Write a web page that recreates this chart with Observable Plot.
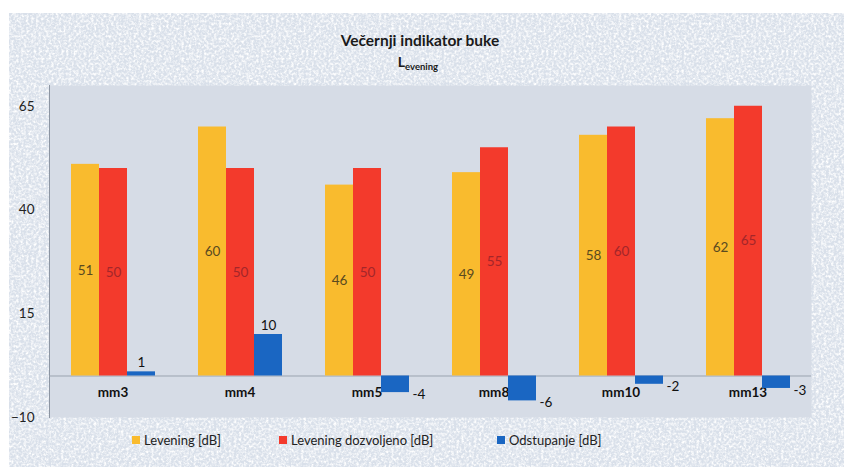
<!DOCTYPE html>
<html>
<head>
<meta charset="utf-8">
<script src="https://cdn.jsdelivr.net/npm/d3@7"></script>
<script src="https://cdn.jsdelivr.net/npm/@observablehq/plot@0.6"></script>
<style>
  html, body { margin: 0; padding: 0; background: #ffffff; }
  #wrap { position: relative; width: 844px; height: 467px; overflow: hidden; font-family: Lato, "Open Sans", sans-serif; }
  #bg { position: absolute; left: 9px; top: 13px; right: 0; bottom: 0; background-color: #d9e0ea; }
  #chart { position: absolute; left: 0; top: 0; }
  #title { position: absolute; left: 0; width: 840px; top: 31px; text-align: center; font-weight: 700; font-size: 15.5px; color: #1a1a1a; }
  #subtitle { position: absolute; left: 0; width: 836px; top: 53px; text-align: center; font-weight: 700; font-size: 14px; color: #1a1a1a; }
  #subtitle sub { font-size: 9.5px; vertical-align: -3px; }
  .leg { position: absolute; top: 432px; font-size: 13px; color: #222; display: flex; align-items: center; white-space: nowrap; }
  .leg i { display: inline-block; width: 8px; height: 8px; margin-right: 4px; }
</style>
</head>
<body>
<div id="wrap">
  <div id="bg"></div>
  <div id="chart"></div>
  <div id="title">Večernji indikator buke</div>
  <div id="subtitle">L<sub>evening</sub></div>
  <div id="legend"></div>
</div>
<script>
const categories = ["mm3", "mm4", "mm5", "mm8", "mm10", "mm13"];
const levening = [51, 60, 46, 49, 58, 62];
const dozvoljeno = [50, 50, 50, 55, 60, 65];
const odstupanje = [1, 10, -4, -6, -2, -3];
const seriesNames = ["Levening [dB]", "Levening dozvoljeno [dB]", "Odstupanje [dB]"];
const yTicks = [65, 40, 15, -10];
const colors = ["#f9bb2e", "#f33a2c", "#1a66c2"];
const labelColors = ["#5a4a20", "#a3262a", "#1a1a1a"];

// speckled paper texture for the background
const noise = `<svg xmlns='http://www.w3.org/2000/svg' width='240' height='240'><filter id='n'><feTurbulence type='fractalNoise' baseFrequency='0.4' numOctaves='3' seed='4' stitchTiles='stitch'/><feColorMatrix values='0 0 0 0 1 0 0 0 0 1 0 0 0 0 1 0 0 0 2.4 -0.92'/></filter><rect width='240' height='240' filter='url(%23n)'/></svg>`;
document.getElementById("bg").style.backgroundImage = `url("data:image/svg+xml;utf8,${noise.replace(/#/g, "%23").replace(/"/g, "'")}")`;

const seriesValues = [levening, dozvoljeno, odstupanje];
const data = [];
categories.forEach((c, i) => {
  seriesNames.forEach((s, k) => data.push({cat: c, series: s, k, value: seriesValues[k][i]}));
});
const inner = data.filter(d => d.k < 2);
const devPos = data.filter(d => d.k === 2 && d.value >= 0);
const devNeg = data.filter(d => d.k === 2 && d.value < 0);

const chart = Plot.plot({
  width: 844,
  height: 467,
  marginTop: 85,
  marginBottom: 50,
  marginLeft: 48,
  marginRight: 32,
  style: {background: "transparent", fontFamily: "Lato, 'Open Sans', sans-serif", fontSize: "13px", color: "#222"},
  fx: {domain: categories, padding: 0, label: null},
  x: {domain: seriesNames, paddingInner: 0, paddingOuter: 0.75, axis: null},
  y: {domain: [-10, 70], label: null},
  color: {domain: seriesNames, range: colors},
  marks: [
    Plot.frame({fill: "#d6dce6", stroke: "none", facet: "super"}),
    Plot.frame({anchor: "left", stroke: "#8c95a2", strokeWidth: 1, facet: "super"}),
    Plot.axisY(yTicks, {tickSize: 0, tickPadding: 15, fontSize: 13.5, fill: "#222", label: null}),
    Plot.axisFx({anchor: "bottom", tickSize: 0, tickPadding: 0, dy: -30, fontWeight: "bold", fontSize: 13.5, fill: "#111", label: null}),
    Plot.ruleY([0], {stroke: "#9aa3af", strokeWidth: 1}),
    Plot.barY(data, {fx: "cat", x: "series", y: "value", fill: "series"}),
    Plot.text(inner, {fx: "cat", x: "series", y: d => d.value / 2, text: d => String(d.value), fill: d => labelColors[d.k], fontSize: 13.5}),
    Plot.text(devPos, {fx: "cat", x: "series", y: "value", text: d => String(d.value), dy: -9, fontSize: 13.5, fill: "#111"}),
    Plot.text(devNeg, {fx: "cat", x: "series", y: "value", text: d => String(d.value), dx: 17, dy: 2, textAnchor: "start", fontSize: 13.5, fill: "#111"})
  ]
});
document.getElementById("chart").appendChild(chart);

// legend
const legendLeft = [132, 279, 497];
const legend = document.getElementById("legend");
seriesNames.forEach((s, k) => {
  const el = document.createElement("div");
  el.className = "leg";
  el.style.left = legendLeft[k] + "px";
  el.innerHTML = `<i style="background:${colors[k]}"></i>${s}`;
  legend.appendChild(el);
});
</script>
</body>
</html>
